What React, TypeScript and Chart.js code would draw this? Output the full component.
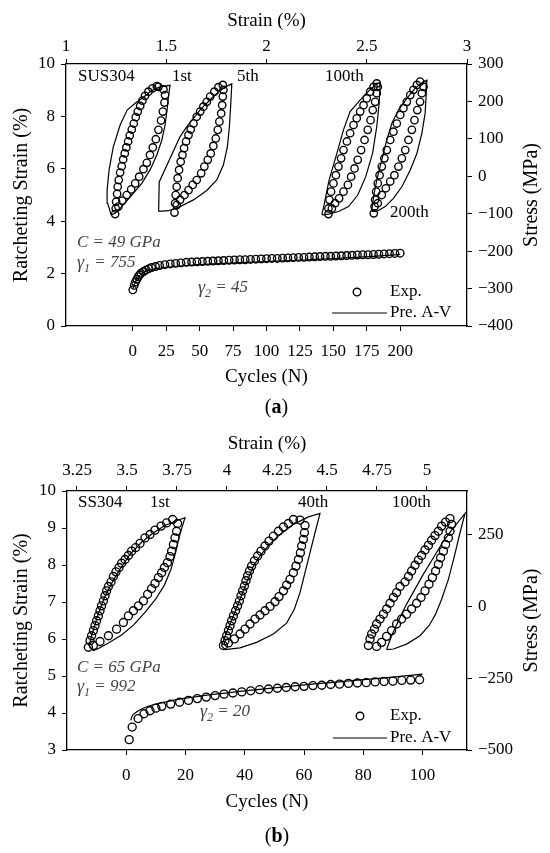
import React, { useEffect, useRef } from "react";
import { Chart, registerables } from "chart.js";

Chart.register(...registerables);

const FONT = '"Liberation Serif", "Times New Roman", serif';
Chart.defaults.font.family = FONT;

type Pt = [number, number];

// ---------------- Panel (a) ----------------
const cycleTicksA = [0, 25, 50, 75, 100, 125, 150, 175, 200];
const strainTicksA = [1, 1.5, 2, 2.5, 3];
const ratchetTicksA = [0, 2, 4, 6, 8, 10];
const stressTicksA = [-400, -300, -200, -100, 0, 100, 200, 300];

const ratchetExpA: Pt[] = [
  [0, 1.38], [1, 1.55], [2, 1.68], [3, 1.78], [4, 1.88], [5, 1.95], [6, 2.01], [8, 2.08], [10, 2.14],
  [12, 2.19], [14, 2.23], [17, 2.27], [20, 2.31], [24, 2.34], [28, 2.37], [32, 2.39], [36, 2.41],
  [40, 2.43], [44, 2.44], [48, 2.45], [52, 2.46], [56, 2.47], [60, 2.48], [64, 2.49], [68, 2.5],
  [72, 2.51], [76, 2.52], [80, 2.53], [84, 2.53], [88, 2.54], [92, 2.55], [96, 2.56], [100, 2.57],
  [104, 2.58], [108, 2.58], [112, 2.59], [116, 2.6], [120, 2.61], [124, 2.62], [128, 2.62],
  [132, 2.63], [136, 2.64], [140, 2.65], [144, 2.66], [148, 2.66], [152, 2.67], [156, 2.68],
  [160, 2.69], [164, 2.7], [168, 2.71], [172, 2.72], [176, 2.72], [180, 2.73], [184, 2.74],
  [188, 2.75], [192, 2.76], [196, 2.77], [200, 2.78],
];
const ratchetPreA: Pt[] = [
  [0, 1.42], [1, 1.56], [2, 1.68], [3, 1.78], [4, 1.86], [6, 1.97], [8, 2.04], [10, 2.09], [15, 2.16],
  [20, 2.21], [30, 2.27], [40, 2.31], [60, 2.37], [80, 2.42], [100, 2.46], [120, 2.5], [140, 2.55],
  [160, 2.6], [180, 2.66], [200, 2.73],
];

const loopExpA1: Pt[] = [
  [1.453, 241], [1.431, 235], [1.411, 226], [1.394, 215], [1.381, 202], [1.37, 188], [1.358, 173],
  [1.348, 158], [1.338, 141], [1.328, 125], [1.318, 109], [1.31, 93], [1.301, 77], [1.293, 61],
  [1.285, 45], [1.278, 27], [1.27, 10], [1.263, -10], [1.258, -28], [1.255, -47], [1.25, -68],
  [1.248, -86], [1.245, -101], [1.261, -81], [1.281, -65], [1.303, -50], [1.325, -35], [1.345, -19],
  [1.365, -1], [1.386, 19], [1.403, 36], [1.419, 57], [1.433, 77], [1.448, 99], [1.461, 124],
  [1.474, 149], [1.483, 173], [1.491, 197], [1.494, 217], [1.486, 232], [1.461, 239],
];
const loopPreA1: Pt[] = [
  [1.225, -103], [1.208, -72], [1.205, -37], [1.215, 17], [1.236, 79], [1.27, 137], [1.305, 177],
  [1.345, 195], [1.386, 211], [1.428, 229], [1.469, 239], [1.519, 243], [1.511, 213], [1.504, 177],
  [1.494, 137], [1.478, 97], [1.453, 57], [1.419, 17], [1.378, -19], [1.328, -50], [1.278, -81],
  [1.245, -99], [1.225, -103],
];
const loopExpA5: Pt[] = [
  [1.782, 244], [1.76, 238], [1.74, 226], [1.719, 213], [1.702, 199], [1.685, 186], [1.669, 173],
  [1.652, 159], [1.636, 141], [1.622, 125], [1.611, 110], [1.599, 93], [1.589, 75], [1.581, 57],
  [1.572, 39], [1.564, 17], [1.557, -5], [1.552, -28], [1.547, -50], [1.544, -72], [1.541, -97],
  [1.552, -77], [1.569, -63], [1.591, -50], [1.611, -37], [1.632, -23], [1.652, -10], [1.674, 8],
  [1.69, 26], [1.707, 44], [1.722, 61], [1.735, 81], [1.747, 101], [1.757, 124], [1.765, 146],
  [1.774, 168], [1.779, 190], [1.782, 213], [1.785, 231],
];
const loopPreA5: Pt[] = [
  [1.462, -94], [1.465, -15], [1.569, 106], [1.602, 132], [1.668, 177], [1.735, 213], [1.785, 236],
  [1.827, 247], [1.822, 195], [1.815, 133], [1.805, 79], [1.785, 30], [1.752, -10], [1.702, -38],
  [1.636, -63], [1.569, -81], [1.511, -92], [1.462, -94],
];
const loopExpA100: Pt[] = [
  [2.55, 248], [2.534, 239], [2.517, 226], [2.5, 208], [2.484, 190], [2.467, 173], [2.45, 155],
  [2.434, 137], [2.417, 115], [2.401, 93], [2.384, 70], [2.372, 48], [2.359, 26], [2.346, 3],
  [2.334, -19], [2.322, -41], [2.314, -63], [2.309, -86], [2.309, -101], [2.326, -86], [2.342, -72],
  [2.362, -59], [2.384, -41], [2.406, -23], [2.422, -1], [2.439, 21], [2.455, 44], [2.472, 70],
  [2.489, 97], [2.505, 124], [2.519, 150], [2.53, 177], [2.542, 199], [2.55, 222], [2.555, 239],
];
const loopPreA100: Pt[] = [
  [2.276, -103], [2.289, -72], [2.312, -10], [2.346, 52], [2.384, 124], [2.417, 173], [2.459, 199],
  [2.5, 223], [2.542, 244], [2.567, 250], [2.562, 195], [2.55, 133], [2.529, 61], [2.495, -1],
  [2.455, -50], [2.409, -81], [2.359, -94], [2.309, -101], [2.276, -103],
];
const loopExpA200: Pt[] = [
  [2.766, 253], [2.75, 244], [2.733, 231], [2.717, 217], [2.7, 199], [2.683, 182], [2.667, 164],
  [2.65, 141], [2.633, 119], [2.617, 97], [2.6, 70], [2.588, 48], [2.575, 26], [2.564, 3],
  [2.555, -19], [2.547, -41], [2.542, -63], [2.539, -81], [2.535, -99], [2.555, -72], [2.575, -50],
  [2.595, -32], [2.617, -14], [2.638, 3], [2.658, 26], [2.675, 48], [2.692, 70], [2.708, 97],
  [2.725, 124], [2.738, 150], [2.752, 177], [2.766, 199], [2.775, 222], [2.783, 239],
];
const loopPreA200: Pt[] = [
  [2.525, -94], [2.534, -54], [2.55, -10], [2.575, 44], [2.6, 97], [2.625, 141], [2.658, 177],
  [2.7, 208], [2.741, 235], [2.783, 253], [2.8, 257], [2.796, 213], [2.791, 168], [2.775, 115],
  [2.75, 61], [2.717, 17], [2.675, -28], [2.633, -59], [2.592, -81], [2.55, -94], [2.525, -94],
];

// ---------------- Panel (b) ----------------
const cycleTicksB = [0, 20, 40, 60, 80, 100];
const strainTicksB = [3.25, 3.5, 3.75, 4, 4.25, 4.5, 4.75, 5];
const ratchetTicksB = [3, 4, 5, 6, 7, 8, 9, 10];
const stressTicksB = [-500, -250, 0, 250];

const ratchetExpB: Pt[] = [
  [1, 3.28], [2, 3.62], [4, 3.85], [6, 3.98], [8, 4.06], [10, 4.13], [12, 4.18], [15, 4.24],
  [18, 4.29], [21, 4.34], [24, 4.39], [27, 4.43], [30, 4.47], [33, 4.51], [36, 4.54], [39, 4.57],
  [42, 4.6], [45, 4.63], [48, 4.65], [51, 4.67], [54, 4.69], [57, 4.71], [60, 4.72], [63, 4.74],
  [66, 4.75], [69, 4.77], [72, 4.78], [75, 4.8], [78, 4.81], [81, 4.82], [84, 4.84], [87, 4.85],
  [90, 4.86], [93, 4.88], [96, 4.89], [99, 4.9],
];
const ratchetPreB: Pt[] = [
  [1.5, 3.8], [2, 3.92], [3, 4.0], [5, 4.1], [7, 4.17], [10, 4.24], [15, 4.33], [20, 4.4],
  [30, 4.51], [40, 4.6], [50, 4.68], [60, 4.76], [70, 4.83], [80, 4.9], [90, 4.97], [100, 5.05],
];

const loopExpB1: Pt[] = [
  [3.307, -143], [3.315, -120], [3.323, -103], [3.332, -85], [3.34, -68], [3.348, -51], [3.357, -34],
  [3.365, -16], [3.373, 1], [3.382, 18], [3.39, 36], [3.398, 53], [3.407, 68], [3.42, 84],
  [3.432, 103], [3.445, 119], [3.46, 134], [3.473, 149], [3.49, 162], [3.507, 176], [3.523, 191],
  [3.543, 203], [3.565, 218], [3.59, 237], [3.615, 249], [3.64, 264], [3.67, 278], [3.698, 289],
  [3.728, 301], [3.753, 287], [3.748, 260], [3.74, 237], [3.732, 214], [3.723, 191], [3.715, 172],
  [3.702, 151], [3.687, 134], [3.673, 116], [3.657, 99], [3.64, 79], [3.623, 61], [3.603, 41],
  [3.582, 18], [3.557, 1], [3.532, -16], [3.507, -34], [3.482, -57], [3.448, -80], [3.407, -103],
  [3.365, -123], [3.332, -137],
];
const loopPreB1: Pt[] = [
  [3.332, -155], [3.31, -137], [3.323, -103], [3.353, -34], [3.387, 30], [3.423, 79], [3.465, 128],
  [3.515, 180], [3.573, 222], [3.632, 255], [3.69, 280], [3.74, 295], [3.79, 307], [3.777, 278],
  [3.762, 243], [3.743, 186], [3.72, 128], [3.687, 73], [3.643, 24], [3.59, -22], [3.532, -66],
  [3.473, -100], [3.407, -128], [3.357, -147], [3.332, -155],
];
const loopExpB40: Pt[] = [
  [3.982, -137], [3.99, -120], [3.998, -103], [4.007, -85], [4.015, -68], [4.023, -51], [4.032, -34],
  [4.043, -16], [4.053, 1], [4.062, 18], [4.07, 36], [4.078, 53], [4.087, 70], [4.095, 88],
  [4.103, 105], [4.112, 122], [4.123, 139], [4.137, 157], [4.153, 174], [4.17, 191], [4.19, 209],
  [4.21, 226], [4.232, 243], [4.257, 260], [4.282, 275], [4.307, 287], [4.332, 301], [4.365, 299],
  [4.39, 280], [4.387, 255], [4.382, 232], [4.373, 209], [4.367, 185], [4.357, 162], [4.345, 139],
  [4.332, 116], [4.315, 93], [4.298, 73], [4.282, 53], [4.26, 33], [4.24, 15], [4.215, -1],
  [4.19, -16], [4.165, -31], [4.14, -45], [4.115, -62], [4.09, -80], [4.065, -97], [4.037, -114],
  [4.007, -128],
];
const loopPreB40: Pt[] = [
  [3.99, -151], [3.973, -137], [3.998, -91], [4.032, -34], [4.065, 24], [4.098, 82], [4.132, 139],
  [4.165, 174], [4.207, 211], [4.265, 249], [4.332, 284], [4.407, 310], [4.465, 322], [4.44, 255],
  [4.415, 186], [4.39, 116], [4.365, 47], [4.337, -10], [4.298, -59], [4.232, -97], [4.148, -126],
  [4.065, -145], [3.99, -151],
];
const loopExpB100: Pt[] = [
  [4.707, -137], [4.715, -114], [4.723, -97], [4.737, -80], [4.748, -62], [4.765, -45], [4.782, -28],
  [4.798, -10], [4.815, 10], [4.832, 30], [4.848, 47], [4.865, 68], [4.89, 84], [4.907, 103],
  [4.923, 122], [4.94, 142], [4.957, 160], [4.973, 176], [4.99, 195], [5.007, 211], [5.023, 229],
  [5.04, 245], [5.057, 260], [5.073, 278], [5.093, 292], [5.115, 304], [5.123, 284], [5.115, 260],
  [5.107, 237], [5.093, 214], [5.082, 191], [5.068, 168], [5.057, 145], [5.043, 122], [5.027, 99],
  [5.01, 76], [4.99, 53], [4.97, 30], [4.948, 10], [4.923, -10], [4.898, -28], [4.873, -45],
  [4.848, -62], [4.823, -85], [4.798, -105], [4.773, -126], [4.748, -140],
];
const loopPreB100: Pt[] = [
  [4.798, -151], [4.823, -103], [4.857, -51], [4.898, 7], [4.94, 59], [4.982, 111], [5.032, 168],
  [5.082, 226], [5.132, 272], [5.19, 322], [5.165, 255], [5.137, 174], [5.107, 93], [5.073, 24],
  [5.043, -28], [5.01, -68], [4.965, -103], [4.898, -132], [4.832, -149], [4.798, -151],
];

// ---------------- helpers ----------------
const toXY = (arr: Pt[]) => arr.map(([x, y]) => ({ x, y }));

function expSet(data: Pt[], xAxisID: string, yAxisID: string, r: number) {
  return {
    data: toXY(data),
    xAxisID,
    yAxisID,
    showLine: false,
    pointStyle: "circle",
    pointRadius: r,
    pointHoverRadius: r,
    pointBorderColor: "#000",
    pointBackgroundColor: "rgba(255,255,255,0)",
    pointBorderWidth: 1.35,
    borderColor: "#000",
    backgroundColor: "rgba(255,255,255,0)",
  };
}

function lineSet(data: Pt[], xAxisID: string, yAxisID: string, smooth: boolean) {
  return {
    data: toXY(data),
    xAxisID,
    yAxisID,
    showLine: true,
    pointRadius: 0,
    pointHoverRadius: 0,
    borderColor: "#000",
    borderWidth: 1.2,
    fill: false,
    tension: 0,
    cubicInterpolationMode: smooth ? "monotone" : "default",
  };
}

const fmtNum = (v: number) => String(v).replace("-", "\u2212");

function axis(
  axisName: "x" | "y",
  position: string,
  min: number,
  max: number,
  tickVals: number[],
  size: number,
  padding: number
) {
  return {
    type: "linear",
    axis: axisName,
    position,
    min,
    max,
    afterBuildTicks: (s: any) => {
      s.ticks = tickVals.map((v) => ({ value: v }));
    },
    afterFit: (s: any) => {
      if (position === "left" || position === "right") s.width = size;
      else s.height = size;
    },
    ticks: {
      color: "#000",
      font: { family: FONT, size: 17 },
      padding,
      autoSkip: false,
      maxRotation: 0,
      minRotation: 0,
      callback: (v: any) => fmtNum(Number(v)),
    },
    grid: {
      drawOnChartArea: false,
      drawTicks: true,
      tickLength: 5,
      color: "#000",
      lineWidth: 1,
    },
    border: { display: true, color: "#000", width: 1.3 },
  };
}

type TextItem = { text: string; dx: number; dy: number; italic?: boolean; color?: string };
type GammaItem = { sub: string; rest: string; dx: number; dy: number };

type DecorSpec = {
  letter: string;
  topTitle: number;
  bottomTitle: number;
  letterY: number;
  leftTitleX: number;
  rightTitleX: number;
  texts: TextItem[];
  gammas: GammaItem[];
  legend: { cx: number; cy: number; tx: number; lx1: number; lx2: number; ly: number };
};

function makeDecor(spec: DecorSpec) {
  return {
    id: "decor",
    afterDraw(chart: any) {
      const { ctx, chartArea: ca } = chart;
      ctx.save();
      ctx.fillStyle = "#000";
      ctx.textBaseline = "middle";

      const cx = (ca.left + ca.right) / 2;
      ctx.textAlign = "center";
      ctx.font = `19px ${FONT}`;
      ctx.fillText("Strain (%)", cx, ca.top - spec.topTitle);
      ctx.fillText("Cycles (N)", cx, ca.bottom + spec.bottomTitle);

      const cy = (ca.top + ca.bottom) / 2;
      ctx.font = `20px ${FONT}`;
      ctx.save();
      ctx.translate(spec.leftTitleX, cy);
      ctx.rotate(-Math.PI / 2);
      ctx.fillText("Ratcheting Strain (%)", 0, 0);
      ctx.restore();
      ctx.save();
      ctx.translate(spec.rightTitleX, cy);
      ctx.rotate(-Math.PI / 2);
      ctx.fillText("Stress (MPa)", 0, 0);
      ctx.restore();

      // panel letter "(a)" with bold letter
      ctx.textAlign = "left";
      const nf = `20px ${FONT}`;
      const bf = `bold 20px ${FONT}`;
      ctx.font = nf;
      const w1 = ctx.measureText("(").width;
      const w3 = ctx.measureText(")").width;
      ctx.font = bf;
      const w2 = ctx.measureText(spec.letter).width;
      let lx = cx + 10 - (w1 + w2 + w3) / 2;
      const ly = ca.bottom + spec.letterY;
      ctx.font = nf;
      ctx.fillText("(", lx, ly);
      lx += w1;
      ctx.font = bf;
      ctx.fillText(spec.letter, lx, ly);
      lx += w2;
      ctx.font = nf;
      ctx.fillText(")", lx, ly);

      // annotations
      for (const t of spec.texts) {
        ctx.font = `${t.italic ? "italic " : ""}17px ${FONT}`;
        ctx.fillStyle = t.color || "#000";
        ctx.fillText(t.text, ca.left + t.dx, ca.top + t.dy);
      }
      ctx.fillStyle = "#444";
      for (const g of spec.gammas) {
        let x = ca.left + g.dx;
        const y = ca.top + g.dy;
        ctx.font = `italic 18px ${FONT}`;
        ctx.fillText("\u03b3", x, y);
        x += ctx.measureText("\u03b3").width;
        ctx.font = `italic 12px ${FONT}`;
        ctx.fillText(g.sub, x, y + 6);
        x += ctx.measureText(g.sub).width;
        ctx.font = `italic 17px ${FONT}`;
        ctx.fillText(g.rest, x, y);
      }

      // legend
      const L = spec.legend;
      ctx.fillStyle = "#000";
      ctx.strokeStyle = "#000";
      ctx.lineWidth = 1.35;
      ctx.beginPath();
      ctx.arc(ca.left + L.cx, ca.top + L.cy, 3.8, 0, Math.PI * 2);
      ctx.stroke();
      ctx.font = `17px ${FONT}`;
      ctx.fillText("Exp.", ca.left + L.tx, ca.top + L.cy);
      ctx.lineWidth = 1.2;
      ctx.beginPath();
      ctx.moveTo(ca.left + L.lx1, ca.top + L.ly);
      ctx.lineTo(ca.left + L.lx2, ca.top + L.ly);
      ctx.stroke();
      ctx.fillText("Pre. A-V", ca.left + L.tx, ca.top + L.ly);

      ctx.restore();
    },
  };
}

const decorA: DecorSpec = {
  letter: "a",
  topTitle: 43,
  bottomTitle: 51,
  letterY: 82,
  leftTitleX: 22,
  rightTitleX: 532,
  texts: [
    { text: "SUS304", dx: 12, dy: 13 },
    { text: "1st", dx: 106, dy: 13 },
    { text: "5th", dx: 171, dy: 13 },
    { text: "100th", dx: 259, dy: 13 },
    { text: "200th", dx: 324, dy: 149 },
    { text: "C = 49 GPa", dx: 11, dy: 179, italic: true, color: "#444" },
  ],
  gammas: [
    { sub: "1", rest: " = 755", dx: 11, dy: 199 },
    { sub: "2", rest: " = 45", dx: 132, dy: 224 },
  ],
  legend: { cx: 291, cy: 228, tx: 324, lx1: 266, lx2: 321, ly: 249 },
};

const decorB: DecorSpec = {
  letter: "b",
  topTitle: 47,
  bottomTitle: 52,
  letterY: 87,
  leftTitleX: 22,
  rightTitleX: 532,
  texts: [
    { text: "SS304", dx: 11, dy: 12 },
    { text: "1st", dx: 83, dy: 12 },
    { text: "40th", dx: 231, dy: 12 },
    { text: "100th", dx: 325, dy: 12 },
    { text: "C = 65 GPa", dx: 10, dy: 177, italic: true, color: "#444" },
  ],
  gammas: [
    { sub: "1", rest: " = 992", dx: 10, dy: 196 },
    { sub: "2", rest: " = 20", dx: 133, dy: 221 },
  ],
  legend: { cx: 293, cy: 225, tx: 323, lx1: 266, lx2: 320, ly: 247 },
};

function buildConfig(panel: "a" | "b") {
  const isA = panel === "a";
  const datasets = isA
    ? [
        lineSet(ratchetPreA, "x", "y", true),
        expSet(ratchetExpA, "x", "y", 3.8),
        lineSet(loopPreA1, "x2", "y2", false),
        lineSet(loopPreA5, "x2", "y2", false),
        lineSet(loopPreA100, "x2", "y2", false),
        lineSet(loopPreA200, "x2", "y2", false),
        expSet(loopExpA1, "x2", "y2", 3.7),
        expSet(loopExpA5, "x2", "y2", 3.7),
        expSet(loopExpA100, "x2", "y2", 3.7),
        expSet(loopExpA200, "x2", "y2", 3.7),
      ]
    : [
        lineSet(ratchetPreB, "x", "y", true),
        expSet(ratchetExpB, "x", "y", 4),
        lineSet(loopPreB1, "x2", "y2", false),
        lineSet(loopPreB40, "x2", "y2", false),
        lineSet(loopPreB100, "x2", "y2", false),
        expSet(loopExpB1, "x2", "y2", 4),
        expSet(loopExpB40, "x2", "y2", 4),
        expSet(loopExpB100, "x2", "y2", 4),
      ];
  const scales = isA
    ? {
        x: axis("x", "bottom", -50, 250, cycleTicksA, 99, 10),
        x2: axis("x", "top", 1, 3, strainTicksA, 64, 2),
        y: axis("y", "left", 0, 10, ratchetTicksA, 66, 6),
        y2: axis("y", "right", -400, 300, stressTicksA, 83, 6),
      }
    : {
        x: axis("x", "bottom", -20, 115, cycleTicksB, 103, 10),
        x2: axis("x", "top", 3.2, 5.2, strainTicksB, 66, 5),
        y: axis("y", "left", 3, 10, ratchetTicksB, 67, 6),
        y2: axis("y", "right", -500, 400, stressTicksB, 83, 6),
      };
  return {
    type: "scatter",
    data: { datasets },
    options: {
      animation: false,
      responsive: false,
      maintainAspectRatio: false,
      events: [],
      layout: { padding: 0 },
      plugins: { legend: { display: false }, tooltip: { enabled: false }, title: { display: false } },
      scales,
    },
    plugins: [makeDecor(isA ? decorA : decorB)],
  };
}

function Panel({ panel, top, height }: { panel: "a" | "b"; top: number; height: number }) {
  const ref = useRef<HTMLCanvasElement>(null);
  useEffect(() => {
    if (!ref.current) return;
    const chart = new Chart(ref.current, buildConfig(panel) as any);
    return () => chart.destroy();
  }, [panel]);
  return (
    <div style={{ position: "absolute", left: 0, top, width: 550, height }}>
      <canvas ref={ref} width={550} height={height} style={{ width: 550, height, display: "block" }} />
    </div>
  );
}

export default function App() {
  return (
    <div style={{ position: "absolute", left: 0, top: 0, width: 550, height: 853, background: "#fff" }}>
      <Panel panel="a" top={0} height={425} />
      <Panel panel="b" top={425} height={428} />
    </div>
  );
}
